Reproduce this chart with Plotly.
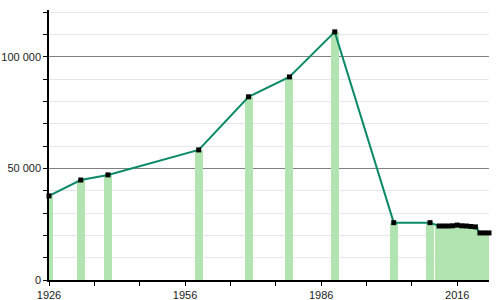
import plotly.graph_objects as go

years = [1926, 1933, 1939, 1959, 1970, 1979, 1989, 2002, 2010,
         2012, 2013, 2014, 2015, 2016, 2017, 2018, 2019, 2020, 2021, 2022, 2023]
population = [37700, 44800, 47100, 58300, 82100, 91000, 111200, 25700, 25700,
              24200, 24200, 24200, 24300, 24600, 24300, 24200, 24000, 23800, 21100, 21100, 21100]
x_tick_vals = [1926, 1956, 1986, 2016]
x_tick_text = ["1926", "1956", "1986", "2016"]
y_tick_vals = [0, 50000, 100000]
y_tick_text = ["0", "50 000", "100 000"]

bar_color = "#b2e4b2"
line_color = "#0a8a68"

fig = go.Figure()
# bars (all but last, not clipped so first bar extends left of axis)
fig.add_trace(go.Bar(x=years[:-1], y=population[:-1], width=1.8,
                     marker=dict(color=bar_color, line=dict(width=0)),
                     cliponaxis=False, hoverinfo="skip", showlegend=False))
# last bar clipped at plot edge
fig.add_trace(go.Bar(x=years[-1:], y=population[-1:], width=1.8,
                     marker=dict(color=bar_color, line=dict(width=0)),
                     cliponaxis=True, hoverinfo="skip", showlegend=False))
fig.add_trace(go.Scatter(x=years, y=population, mode="lines",
                         line=dict(color=line_color, width=2),
                         cliponaxis=False, showlegend=False))
fig.add_trace(go.Scatter(x=years, y=population, mode="markers",
                         marker=dict(symbol="square", size=5, color="#000000",
                                     line=dict(width=0)),
                         cliponaxis=False, showlegend=False))

fig.update_layout(
    width=500, height=300,
    margin=dict(l=49, r=11, t=10, b=20),
    paper_bgcolor="white", plot_bgcolor="white",
    barmode="overlay", bargap=0,
    font=dict(family="Liberation Sans, Arial, sans-serif", size=11, color="#222"),
)
fig.update_xaxes(
    range=[1926, 2023], automargin=False,
    tickmode="array", tickvals=x_tick_vals, ticktext=x_tick_text,
    ticks="outside", ticklen=4, tickcolor="#000", tickwidth=1,
    showline=True, linecolor="#000", linewidth=1.5,
    showgrid=False, zeroline=False,
    minor=dict(tick0=1926, dtick=10, ticks="outside", ticklen=4,
               tickcolor="#000", showgrid=False),
)
fig.update_yaxes(
    range=[0, 121000], automargin=False,
    tickmode="array", tickvals=y_tick_vals, ticktext=y_tick_text,
    ticks="outside", ticklen=4, tickcolor="#000", tickwidth=1,
    showline=True, linecolor="#000", linewidth=1.5,
    showgrid=True, gridcolor="#808080", gridwidth=1,
    zeroline=False,
    minor=dict(tick0=0, dtick=10000, ticks="outside", ticklen=4,
               tickcolor="#000", showgrid=True, gridcolor="#e6e6e6", gridwidth=1),
)

fig.write_html("out.html")
